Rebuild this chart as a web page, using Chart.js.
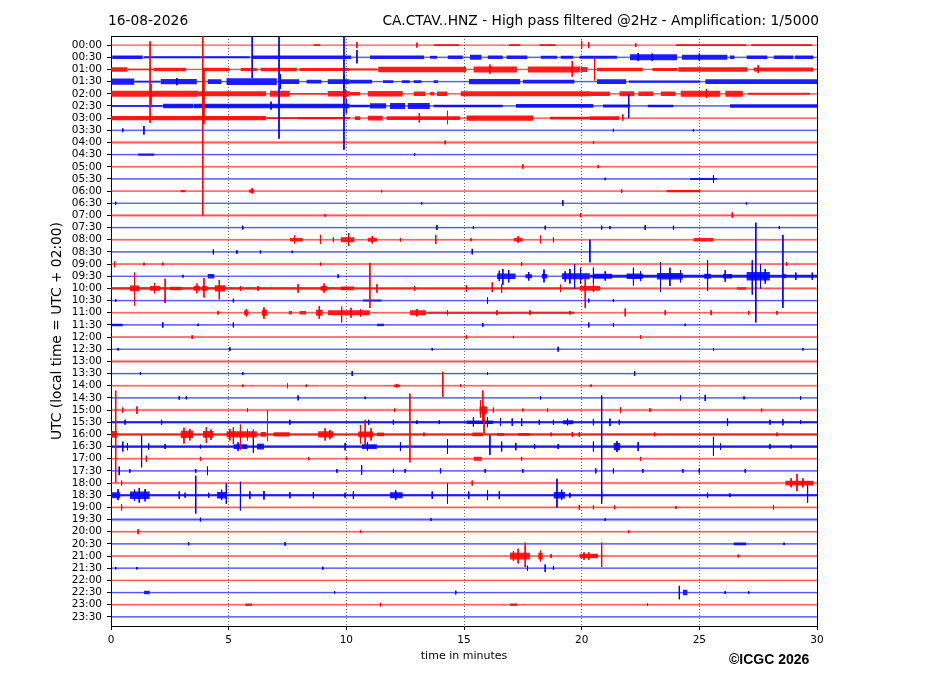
<!DOCTYPE html>
<html>
<head>
<meta charset="utf-8">
<title>CA.CTAV..HNZ helicorder 16-08-2026</title>
<script src="https://cdn.jsdelivr.net/npm/chart.js@4/dist/chart.umd.min.js"></script>
<style>
  body { margin: 0; background: #fff; }
  #wrap { position: relative; width: 927px; height: 696px; font-family: "DejaVu Sans", sans-serif; }
  #heli { position: absolute; left: 0; top: 0; }
  .lbl { position: absolute; white-space: nowrap; color: #000; line-height: 16px; }
  #date { left: 108px; top: 12px; font-size: 13.8px; }
  #station { right: 108px; top: 12px; font-size: 13.8px; }
  #copy { left: 729px; top: 651px; font: bold 14px "Liberation Sans", Arial, sans-serif; line-height: 16px; }
</style>
</head>
<body>
<div id="wrap">
  <canvas id="heli" width="927" height="696"></canvas>
  <div class="lbl" id="date">16-08-2026</div>
  <div class="lbl" id="station">CA.CTAV..HNZ - High pass filtered @2Hz - Amplification: 1/5000</div>
  <div class="lbl" id="copy">©ICGC 2026</div>
</div>
<script>
/**
 * Helicorder (drum record) of CA.CTAV..HNZ for one day: 48 half-hour rows,
 * each a 30-minute trace plotted around its own baseline.
 * Amplitudes below are in "row units" (1 = distance between two baselines),
 * read off the reference plot.
 */

/** Row labels, top to bottom (UTC). */
const rowLabels = [
  "00:00", "00:30", "01:00", "01:30", "02:00", "02:30", "03:00", "03:30",
  "04:00", "04:30", "05:00", "05:30", "06:00", "06:30", "07:00", "07:30",
  "08:00", "08:30", "09:00", "09:30", "10:00", "10:30", "11:00", "11:30",
  "12:00", "12:30", "13:00", "13:30", "14:00", "14:30", "15:00", "15:30",
  "16:00", "16:30", "17:00", "17:30", "18:00", "18:30", "19:00", "19:30",
  "20:00", "20:30", "21:00", "21:30", "22:00", "22:30", "23:00", "23:30",
];

/** Minute ticks on the time axis. */
const xTicks = [0, 5, 10, 15, 20, 25, 30];

/** Background noise half-amplitude of each row. */
const rowNoise = [
  0.06, 0.07, 0.07, 0.07, 0.07, 0.07, 0.07, 0.07,
  0.13, 0.07, 0.08, 0.07, 0.08, 0.07, 0.11, 0.07,
  0.08, 0.07, 0.08, 0.07, 0.11, 0.07, 0.08, 0.07,
  0.08, 0.07, 0.13, 0.07, 0.08, 0.07, 0.10, 0.08,
  0.09, 0.08, 0.08, 0.07, 0.10, 0.08, 0.10, 0.13,
  0.08, 0.07, 0.08, 0.07, 0.08, 0.07, 0.08, 0.07,
];

/** Sustained noisy stretches per row: [startMin, endMin, halfAmplitude]. */
const bands = [
  /* 00:00 */ [[8.6, 8.9, 0.08], [13.7, 14.8, 0.07], [16.9, 17.4, 0.08], [18.2, 18.9, 0.08], [24.0, 27.0, 0.07], [27.2, 29.8, 0.07]],
  /* 00:30 */ [[0.05, 1.35, 0.15], [1.4, 5.9, 0.08], [6.0, 10.2, 0.14], [11.0, 13.3, 0.14], [13.55, 13.85, 0.12], [14.3, 14.95, 0.14], [15.25, 15.75, 0.2], [16.0, 16.65, 0.14], [16.8, 17.7, 0.14], [18.25, 18.95, 0.12], [19.1, 19.65, 0.12], [19.9, 21.5, 0.12], [22.05, 24.05, 0.24], [24.25, 26.2, 0.2], [26.3, 26.5, 0.14], [27.0, 27.9, 0.15], [28.15, 29.0, 0.14], [29.05, 29.85, 0.14]],
  /* 01:00 */ [[0, 0.7, 0.18], [0.7, 1.8, 0.06], [1.8, 3.2, 0.15], [3.9, 5.05, 0.15], [5.5, 6.2, 0.12], [6.35, 7.9, 0.15], [8.0, 10.15, 0.12], [10.15, 11.3, 0.08], [11.35, 15.1, 0.22], [15.4, 17.25, 0.25], [17.7, 19.95, 0.25], [19.95, 20.25, 0.2], [20.65, 22.6, 0.15], [23.0, 24.05, 0.12], [24.1, 27.05, 0.18], [27.3, 29.85, 0.17]],
  /* 01:30 */ [[0, 1.0, 0.25], [1.0, 2.1, 0.07], [2.1, 3.65, 0.22], [4.1, 4.7, 0.2], [4.9, 7.05, 0.27], [7.2, 8.0, 0.2], [8.3, 8.95, 0.15], [9.2, 10.15, 0.2], [10.15, 11.1, 0.15], [11.55, 12.0, 0.12], [12.35, 12.7, 0.12], [12.85, 13.2, 0.12], [13.7, 13.9, 0.12], [15.2, 17.4, 0.22], [17.5, 19.7, 0.15], [20.65, 21.9, 0.2], [22.0, 25.05, 0.09], [25.25, 30, 0.2]],
  /* 02:00 */ [[0, 3.7, 0.25], [3.7, 6.6, 0.2], [6.75, 7.6, 0.25], [7.6, 9.2, 0.05], [9.2, 10.15, 0.22], [10.15, 10.6, 0.15], [10.9, 12.4, 0.22], [12.85, 13.35, 0.18], [13.55, 13.75, 0.15], [13.85, 14.3, 0.18], [14.85, 20.35, 0.2], [20.35, 21.2, 0.18], [21.6, 22.25, 0.2], [22.4, 23.05, 0.18], [23.35, 24.0, 0.18], [24.2, 25.9, 0.24], [26.1, 26.85, 0.24], [27.05, 29.7, 0.08]],
  /* 02:30 */ [[0, 2.2, 0.06], [2.2, 3.5, 0.18], [3.5, 10.15, 0.18], [10.15, 11.0, 0.1], [11.0, 11.7, 0.22], [11.85, 12.5, 0.25], [12.6, 13.55, 0.25], [13.7, 16.65, 0.1], [17.2, 20.5, 0.15], [20.9, 22.05, 0.12], [22.8, 23.9, 0.1], [26.3, 30, 0.14]],
  /* 03:00 */ [[0, 6.6, 0.17], [6.6, 7.9, 0.07], [7.9, 10.15, 0.1], [10.35, 10.6, 0.15], [10.9, 11.55, 0.2], [11.7, 14.85, 0.15], [15.1, 17.95, 0.22], [18.65, 20.35, 0.12], [20.35, 21.6, 0.15]],
  /* 03:30 */ [],
  /* 04:00 */ [],
  /* 04:30 */ [[1.15, 1.85, 0.1]],
  /* 05:00 */ [],
  /* 05:30 */ [[24.6, 25.75, 0.08]],
  /* 06:00 */ [[2.95, 3.15, 0.1], [5.85, 6.1, 0.14], [23.6, 25.05, 0.1]],
  /* 06:30 */ [],
  /* 07:00 */ [],
  /* 07:30 */ [],
  /* 08:00 */ [[7.6, 8.15, 0.15], [9.75, 10.35, 0.2], [10.9, 11.3, 0.17], [17.1, 17.5, 0.15], [24.75, 25.6, 0.14]],
  /* 08:30 */ [],
  /* 09:00 */ [],
  /* 09:30 */ [[3.0, 3.1, 0.12], [4.1, 4.4, 0.18], [16.4, 17.2, 0.22], [17.6, 17.9, 0.16], [18.3, 18.55, 0.18], [19.15, 20.35, 0.24], [20.35, 30, 0.13], [20.5, 21.3, 0.2], [21.9, 22.6, 0.22], [23.2, 24.3, 0.26], [25.2, 25.5, 0.2], [26.0, 26.4, 0.18], [27.0, 28.0, 0.35], [28.5, 28.7, 0.16]],
  /* 10:00 */ [[0, 10.15, 0.09], [0.8, 1.2, 0.24], [1.65, 2.1, 0.2], [2.5, 3.0, 0.14], [3.5, 3.8, 0.2], [3.85, 4.1, 0.2], [4.4, 4.85, 0.26], [8.9, 9.2, 0.2], [9.75, 10.35, 0.15], [10.35, 19.9, 0.07], [19.9, 20.8, 0.2], [26.6, 27.0, 0.1]],
  /* 10:30 */ [[10.7, 11.5, 0.08]],
  /* 11:00 */ [[5.65, 5.85, 0.18], [6.4, 6.65, 0.24], [7.55, 7.7, 0.15], [8.0, 8.3, 0.15], [8.7, 9.0, 0.24], [9.2, 11.0, 0.2], [12.7, 13.4, 0.2], [13.4, 19.7, 0.08]],
  /* 11:30 */ [[0, 0.5, 0.1], [11.3, 11.6, 0.1]],
  /* 12:00 */ [],
  /* 12:30 */ [],
  /* 13:00 */ [],
  /* 13:30 */ [],
  /* 14:00 */ [[12.0, 12.3, 0.1]],
  /* 14:30 */ [],
  /* 15:00 */ [[15.65, 16.0, 0.3]],
  /* 15:30 */ [[0, 30, 0.08], [15.1, 16.25, 0.15], [19.2, 19.65, 0.16]],
  /* 16:00 */ [[0, 30, 0.08], [0, 0.25, 0.28], [2.95, 3.5, 0.3], [3.9, 4.35, 0.28], [4.9, 6.2, 0.26], [6.35, 6.6, 0.2], [6.9, 7.6, 0.18], [8.8, 9.45, 0.26], [10.5, 11.15, 0.24], [11.3, 11.6, 0.15], [15.35, 15.8, 0.15], [16.4, 16.7, 0.12], [17.3, 17.8, 0.12]],
  /* 16:30 */ [[0, 30, 0.09], [5.2, 5.8, 0.2], [6.2, 6.5, 0.24], [10.65, 11.3, 0.2], [21.35, 21.65, 0.3]],
  /* 17:00 */ [[15.4, 15.75, 0.17]],
  /* 17:30 */ [],
  /* 18:00 */ [[28.65, 29.85, 0.2]],
  /* 18:30 */ [[0, 30, 0.09], [0, 0.4, 0.24], [0.8, 1.65, 0.3], [4.5, 4.9, 0.26], [11.85, 12.4, 0.24], [18.8, 19.3, 0.26]],
  /* 19:00 */ [],
  /* 19:30 */ [],
  /* 20:00 */ [],
  /* 20:30 */ [[26.45, 27.0, 0.12]],
  /* 21:00 */ [[16.95, 17.8, 0.28], [18.15, 18.35, 0.28], [19.9, 20.7, 0.18]],
  /* 21:30 */ [],
  /* 22:00 */ [],
  /* 22:30 */ [[1.4, 1.65, 0.15], [24.3, 24.5, 0.22]],
  /* 23:00 */ [[5.7, 6.0, 0.1], [16.95, 17.25, 0.1]],
  /* 23:30 */ [],
];

/** Individual wiggles / arrivals per row: [minute, upAmplitude, downAmplitude]. */
const spikes = [
  /* 00:00 */ [[10.45, 0.25, 0.25], [13.0, 0.2, 0.2], [20.0, 0.35, 0.3], [20.3, 0.25, 0.25], [22.3, 0.15, 0.15]],
  /* 00:30 */ [[6.0, 1.8, 1.7], [10.45, 0.6, 0.5], [22.4, 0.35, 0.3], [23.0, 0.3, 0.3], [25.0, 0.3, 0.3]],
  /* 01:00 */ [[16.1, 0.4, 0.35], [19.6, 0.7, 0.6], [20.55, 1.0, 0.9], [27.5, 0.35, 0.3]],
  /* 01:30 */ [[2.8, 0.3, 0.3], [7.14, 4.5, 4.7], [7.2, 0.6, 0.6], [9.9, 0.5, 0.5]],
  /* 02:00 */ [[1.66, 4.3, 2.4], [1.7, 0.8, 0.9], [3.9, 5.0, 10.0], [3.95, 2.0, 2.5], [9.95, 0.4, 0.4], [25.3, 0.4, 0.35]],
  /* 02:30 */ [[6.8, 0.35, 0.3], [9.9, 6.0, 3.6], [10.0, 0.6, 0.6], [22.0, 1.0, 1.0]],
  /* 03:00 */ [[13.1, 0.4, 0.35], [14.3, 0.6, 0.5], [21.75, 0.3, 0.2]],
  /* 03:30 */ [[0.5, 0.15, 0.15], [1.4, 0.35, 0.35], [21.35, 0.12, 0.12], [24.75, 0.1, 0.1]],
  /* 04:00 */ [[14.2, 0.15, 0.15], [20.5, 0.1, 0.1]],
  /* 04:30 */ [[12.9, 0.1, 0.1]],
  /* 05:00 */ [[17.5, 0.2, 0.15], [20.7, 0.12, 0.12]],
  /* 05:30 */ [[21.0, 0.1, 0.1], [25.6, 0.3, 0.3]],
  /* 06:00 */ [[6.0, 0.25, 0.2], [11.5, 0.1, 0.1], [21.7, 0.15, 0.15]],
  /* 06:30 */ [[0.2, 0.12, 0.12], [13.2, 0.1, 0.1], [19.2, 0.25, 0.2], [27.0, 0.1, 0.1]],
  /* 07:00 */ [[9.1, 0.1, 0.1], [19.95, 0.2, 0.15], [26.4, 0.25, 0.2]],
  /* 07:30 */ [[5.6, 0.15, 0.15], [13.85, 0.2, 0.2], [15.4, 0.12, 0.12], [18.45, 0.15, 0.15], [20.85, 0.15, 0.15], [21.2, 0.12, 0.12], [22.7, 0.2, 0.2], [23.9, 0.15, 0.15], [28.4, 0.12, 0.12]],
  /* 08:00 */ [[7.8, 0.35, 0.3], [8.9, 0.4, 0.35], [9.45, 0.2, 0.2], [10.1, 0.55, 0.5], [11.1, 0.3, 0.3], [12.3, 0.15, 0.15], [13.8, 0.4, 0.35], [15.3, 0.12, 0.12], [17.3, 0.3, 0.25], [18.25, 0.35, 0.3], [18.8, 0.2, 0.2]],
  /* 08:30 */ [[4.35, 0.2, 0.2], [5.35, 0.15, 0.15], [6.35, 0.12, 0.12], [7.7, 0.1, 0.1], [15.35, 0.25, 0.2], [20.35, 1.0, 0.85]],
  /* 09:00 */ [[0.15, 0.25, 0.25], [1.4, 0.12, 0.12], [2.2, 0.12, 0.12], [8.9, 0.12, 0.12], [17.45, 0.15, 0.15], [28.7, 0.15, 0.15]],
  /* 09:30 */ [[9.65, 0.15, 0.15], [16.5, 0.45, 0.4], [16.65, 0.6, 0.7], [16.9, 0.5, 0.5], [17.75, 0.35, 0.35], [18.4, 0.55, 0.5], [19.3, 0.4, 0.45], [19.5, 0.6, 0.6], [19.7, 1.0, 1.0], [19.95, 0.7, 0.6], [20.5, 0.7, 0.6], [21.0, 0.4, 0.35], [22.2, 0.7, 0.75], [22.5, 0.4, 0.4], [23.35, 1.15, 1.3], [23.75, 0.7, 0.8], [24.2, 0.5, 0.5], [25.35, 1.3, 1.2], [26.1, 0.5, 0.45], [27.25, 1.3, 1.5], [27.4, 4.4, 3.8], [27.6, 1.0, 1.0], [27.8, 0.6, 0.6], [28.55, 3.4, 2.6], [29.1, 0.3, 0.3], [29.8, 0.3, 0.3]],
  /* 10:00 */ [[1.0, 1.3, 1.4], [1.85, 0.45, 0.4], [2.3, 0.8, 1.2], [3.65, 0.4, 0.4], [3.95, 0.85, 0.75], [4.6, 0.7, 0.9], [5.5, 0.2, 0.2], [6.25, 0.2, 0.2], [7.95, 0.35, 0.35], [9.05, 0.4, 0.35], [11.0, 2.1, 1.6], [11.3, 0.35, 0.35], [12.9, 0.2, 0.2], [15.1, 0.25, 0.25], [16.2, 0.5, 0.3], [16.6, 0.35, 0.35], [19.1, 0.3, 0.3], [20.15, 0.8, 1.6], [20.5, 0.35, 0.3]],
  /* 10:30 */ [[0.2, 0.1, 0.1], [2.3, 0.15, 0.15], [5.2, 0.15, 0.15], [16.0, 0.25, 0.25], [20.3, 0.15, 0.15], [21.35, 0.12, 0.12]],
  /* 11:00 */ [[4.55, 0.15, 0.15], [5.75, 0.3, 0.3], [6.5, 0.45, 0.5], [8.85, 0.55, 0.5], [9.8, 0.5, 0.8], [10.2, 0.4, 0.4], [10.6, 0.3, 0.3], [13.0, 0.3, 0.3], [14.3, 0.2, 0.2], [16.4, 0.2, 0.2], [17.8, 0.2, 0.2], [19.5, 0.15, 0.15], [21.85, 0.35, 0.3], [23.55, 0.2, 0.2], [25.5, 0.2, 0.2], [27.1, 0.15, 0.15], [28.3, 0.15, 0.15]],
  /* 11:30 */ [[2.2, 0.22, 0.22], [3.7, 0.1, 0.1], [5.2, 0.2, 0.2], [15.8, 0.15, 0.15], [20.3, 0.2, 0.2], [21.35, 0.15, 0.15], [24.4, 0.1, 0.1]],
  /* 12:00 */ [[3.45, 0.15, 0.15], [15.1, 0.15, 0.15], [17.1, 0.1, 0.1], [22.5, 0.15, 0.15]],
  /* 12:30 */ [[0.3, 0.1, 0.1], [5.05, 0.15, 0.15], [13.65, 0.1, 0.1], [19.0, 0.2, 0.2], [25.6, 0.1, 0.1], [29.4, 0.1, 0.1]],
  /* 13:00 */ [],
  /* 13:30 */ [[1.25, 0.12, 0.12], [5.6, 0.12, 0.12], [10.25, 0.2, 0.2], [16.0, 0.1, 0.1], [22.25, 0.2, 0.2]],
  /* 14:00 */ [[5.6, 0.1, 0.1], [7.5, 0.2, 0.2], [8.3, 0.1, 0.1], [12.15, 0.15, 0.15], [14.1, 1.15, 0.9], [14.85, 0.12, 0.12], [20.4, 0.1, 0.1]],
  /* 14:30 */ [[2.9, 0.15, 0.15], [3.2, 0.12, 0.12], [7.95, 0.2, 0.2], [10.8, 0.1, 0.1], [18.25, 0.12, 0.12], [20.85, 0.2, 0.2], [24.2, 0.2, 0.2], [25.25, 0.25, 0.25], [26.9, 0.12, 0.12], [29.3, 0.15, 0.15]],
  /* 15:00 */ [[0.5, 0.2, 0.2], [1.1, 0.3, 0.3], [5.8, 0.15, 0.15], [12.05, 0.12, 0.12], [15.7, 0.8, 0.6], [15.8, 1.6, 0.9], [15.85, 0.3, 1.9], [16.25, 0.2, 0.2], [17.5, 0.12, 0.12], [18.55, 0.15, 0.15], [21.65, 0.25, 0.25], [22.9, 0.15, 0.15], [27.65, 0.12, 0.12]],
  /* 15:30 */ [[0.6, 0.2, 0.2], [2.15, 0.2, 0.2], [7.6, 0.2, 0.2], [10.95, 0.2, 0.2], [12.0, 0.2, 0.2], [13.0, 0.15, 0.15], [13.95, 0.15, 0.15], [15.4, 0.4, 0.35], [16.0, 0.4, 0.4], [16.55, 0.35, 0.3], [17.05, 0.3, 0.3], [17.45, 0.3, 0.3], [18.2, 0.2, 0.2], [18.8, 0.2, 0.2], [19.4, 0.3, 0.25], [20.5, 0.25, 0.25], [21.2, 0.3, 0.3], [21.6, 0.2, 0.2], [26.2, 0.3, 0.3], [28.0, 0.2, 0.2], [28.55, 0.25, 0.25], [29.3, 0.15, 0.15]],
  /* 16:00 */ [[0.2, 3.6, 3.95], [3.1, 0.55, 0.75], [3.35, 0.45, 0.5], [4.05, 0.6, 0.7], [4.25, 0.4, 0.45], [5.05, 0.45, 0.5], [5.2, 0.6, 0.8], [5.5, 0.8, 1.25], [5.8, 0.45, 0.5], [6.05, 0.4, 0.4], [6.65, 2.0, 0.55], [9.1, 0.5, 0.5], [9.3, 0.35, 0.4], [10.6, 0.75, 0.75], [10.8, 1.2, 0.85], [11.05, 0.5, 0.5], [12.7, 3.35, 2.3], [13.3, 0.15, 0.15], [18.7, 0.15, 0.15], [19.6, 0.2, 0.2], [19.9, 0.2, 0.2], [23.1, 0.15, 0.15], [28.3, 0.15, 0.15]],
  /* 16:30 */ [[0.5, 0.4, 0.4], [0.7, 0.3, 0.3], [1.3, 0.9, 1.7], [1.6, 0.25, 0.25], [2.3, 0.2, 0.2], [3.8, 0.15, 0.15], [5.4, 0.35, 0.35], [6.05, 1.2, 0.5], [9.95, 0.3, 0.3], [10.9, 0.35, 0.35], [12.3, 0.35, 0.35], [14.3, 0.6, 0.6], [16.1, 0.9, 0.7], [16.6, 0.4, 0.4], [17.2, 0.3, 0.3], [18.0, 0.2, 0.2], [19.0, 0.2, 0.2], [20.5, 0.4, 0.4], [20.85, 3.8, 4.7], [21.5, 0.45, 0.45], [22.4, 0.35, 0.35], [25.6, 0.8, 0.75], [25.9, 0.25, 0.25], [28.0, 0.2, 0.2], [28.9, 0.15, 0.15]],
  /* 17:00 */ [[1.5, 0.25, 0.25], [3.8, 0.15, 0.15], [8.4, 0.12, 0.12], [10.0, 0.12, 0.12], [17.45, 0.15, 0.15], [22.5, 0.15, 0.15]],
  /* 17:30 */ [[0.35, 0.35, 0.35], [0.8, 0.15, 0.15], [3.6, 0.15, 0.15], [4.1, 0.35, 0.35], [9.6, 0.15, 0.15], [10.65, 0.45, 0.3], [12.0, 0.15, 0.15], [12.5, 0.15, 0.15], [14.0, 0.2, 0.2], [15.9, 0.15, 0.15], [17.5, 0.15, 0.15], [20.6, 0.2, 0.2], [21.35, 0.2, 0.2], [22.6, 0.15, 0.15], [24.3, 0.15, 0.15], [25.0, 0.2, 0.2], [26.95, 0.15, 0.15]],
  /* 18:00 */ [[0.45, 0.2, 0.2], [15.35, 0.2, 0.2], [28.9, 0.4, 0.35], [29.15, 0.75, 0.65], [29.4, 0.4, 0.35]],
  /* 18:30 */ [[0.3, 0.5, 0.4], [1.0, 0.45, 0.45], [1.2, 0.6, 0.6], [1.45, 0.5, 0.5], [2.9, 0.3, 0.3], [3.15, 0.2, 0.2], [3.6, 1.6, 1.5], [4.15, 0.2, 0.2], [4.7, 0.45, 0.4], [4.9, 0.95, 0.7], [5.5, 1.1, 1.25], [5.9, 0.3, 0.3], [6.5, 0.35, 0.35], [7.6, 0.25, 0.25], [8.6, 0.25, 0.25], [9.95, 0.2, 0.2], [10.3, 0.3, 0.3], [12.1, 0.4, 0.4], [13.65, 0.3, 0.3], [14.3, 0.95, 0.7], [15.2, 0.3, 0.3], [16.0, 0.4, 0.4], [16.5, 0.3, 0.3], [18.95, 1.35, 1.0], [19.15, 0.45, 0.4], [19.5, 0.2, 0.2], [20.85, 0.3, 0.3], [25.35, 0.2, 0.2], [26.3, 0.15, 0.15], [29.6, 0.9, 0.6]],
  /* 19:00 */ [[0.45, 0.25, 0.25], [19.9, 0.2, 0.2], [20.5, 0.15, 0.15], [21.4, 0.15, 0.15], [24.0, 0.12, 0.12], [28.15, 0.2, 0.2]],
  /* 19:30 */ [[3.8, 0.15, 0.15], [13.6, 0.1, 0.1], [21.0, 0.1, 0.1]],
  /* 20:00 */ [[1.15, 0.2, 0.2], [10.6, 0.1, 0.1], [22.0, 0.1, 0.1]],
  /* 20:30 */ [[3.3, 0.12, 0.12], [7.4, 0.15, 0.15], [28.6, 0.1, 0.1]],
  /* 21:00 */ [[17.1, 0.4, 0.4], [17.3, 0.6, 0.6], [17.6, 1.1, 0.9], [18.25, 0.45, 0.45], [18.7, 0.15, 0.15], [20.1, 0.3, 0.3], [20.3, 0.3, 0.3], [20.85, 1.1, 0.9], [26.65, 0.12, 0.12]],
  /* 21:30 */ [[0.2, 0.1, 0.1], [1.1, 0.1, 0.1], [9.0, 0.12, 0.12], [17.7, 0.2, 0.2], [18.45, 0.3, 0.3], [18.8, 0.15, 0.15]],
  /* 22:00 */ [],
  /* 22:30 */ [[9.5, 0.12, 0.12], [14.65, 0.15, 0.15], [24.15, 0.55, 0.55], [26.1, 0.12, 0.12], [27.1, 0.1, 0.1]],
  /* 23:00 */ [[11.45, 0.15, 0.15], [22.8, 0.1, 0.1]],
  /* 23:30 */ [],
];

const FONT = "DejaVu Sans";
const TRACE_COLORS = ["rgb(255,0,0)", "rgb(0,0,255)"];
const BAND_COLORS = ["rgba(255,0,0,0.88)", "rgba(0,0,255,0.88)"];
const BASE_COLORS = ["rgba(255,0,0,0.55)", "rgba(0,0,255,0.55)"];
const NOISE_COLORS = ["rgba(255,0,0,0.35)", "rgba(0,0,255,0.35)"];

/**
 * Split a row's bands into layers in which no band starts before the
 * previous one ends, so each layer can be filled as one gapped line.
 */
function layers(segs) {
  const groups = [];
  for (const seg of segs) {
    const g = groups.find((grp) => grp[grp.length - 1][1] <= seg[0]);
    if (g) g.push(seg);
    else groups.push([seg]);
  }
  return groups;
}

/**
 * One side of a set of bands as line points, segments separated by gaps.
 * Baseline of row i sits at y = i (axis reversed), sign -1 = above.
 */
function envelope(segs, base, sign) {
  const pts = [];
  for (const [s, e, h] of segs) {
    pts.push({ x: s, y: base + sign * h }, { x: e, y: base + sign * h }, { x: e, y: null });
  }
  return pts;
}

/** Vertical strokes for the spikes of one row. */
function spikePoints(list, base) {
  const pts = [];
  for (const [x, up, down] of list) {
    pts.push({ x, y: base - up }, { x, y: base + down }, { x, y: null });
  }
  return pts;
}

/** Filled band (both sides of the baseline) for a set of segments. */
function bandPair(segs, base, color, order) {
  return [-1, 1].map((sign) => ({
    data: envelope(segs, base, sign), pointRadius: 0, spanGaps: false, tension: 0,
    borderColor: "rgba(0,0,0,0)", borderWidth: 1, backgroundColor: color,
    fill: { value: base }, order,
  }));
}

/** All datasets for row i: baseline, background noise, noisy bands, spikes. */
function rowDatasets(i) {
  const k = i % 2;
  const out = [
    { data: [{ x: 0, y: i }, { x: 30, y: i }], pointRadius: 0, borderColor: BASE_COLORS[k], borderWidth: 1, fill: false, order: 4 },
    ...bandPair([[0, 30, rowNoise[i]]], i, NOISE_COLORS[k], 3),
  ];
  for (const grp of layers(bands[i])) out.push(...bandPair(grp, i, BAND_COLORS[k], 2));
  if (spikes[i].length) {
    out.push({ data: spikePoints(spikes[i], i), pointRadius: 0, spanGaps: false, tension: 0,
      borderColor: TRACE_COLORS[k], borderWidth: 1, fill: false, order: 1 });
  }
  return out;
}

const datasets = rowLabels.flatMap((_, i) => rowDatasets(i));

Chart.defaults.font.family = FONT;
Chart.defaults.color = "#000";

const frame = { display: true, color: "#000", width: 1 };

new Chart(document.getElementById("heli"), {
  type: "line",
  data: { datasets },
  options: {
    responsive: false,
    animation: false,
    events: [],
    layout: { padding: { top: 36, right: 110, left: 0, bottom: 0 } },
    plugins: { legend: { display: false }, tooltip: { enabled: false } },
    scales: {
      x: {
        type: "linear", min: 0, max: 30,
        afterBuildTicks: (s) => { s.ticks = xTicks.map((v) => ({ value: v })); },
        afterFit: (s) => { s.height = 70; },
        ticks: { font: { size: 10.5 }, color: "#000", padding: 4, maxRotation: 0, autoSkip: false },
        grid: {
          color: (c) => (c.tick && c.tick.value > 0 && c.tick.value < 30 ? "#444" : "rgba(0,0,0,0)"),
          lineWidth: 0.8, tickColor: "#000", tickLength: 4, tickWidth: 1,
        },
        border: { ...frame, dash: [1, 2] },
        title: { display: true, text: "time in minutes", font: { size: 11 }, color: "#000", padding: { top: 0, bottom: 33 } },
      },
      y: {
        type: "linear", reverse: true, min: -0.75, max: rowLabels.length - 0.25,
        afterBuildTicks: (s) => { s.ticks = rowLabels.map((_, i) => ({ value: i })); },
        afterFit: (s) => { s.width = 111; },
        ticks: { callback: (v) => rowLabels[v], font: { size: 10.5 }, color: "#000", padding: 5, autoSkip: false },
        grid: { drawOnChartArea: false, drawTicks: true, tickLength: 4, color: "#000", tickColor: "#000" },
        border: frame,
        title: { display: true, text: "UTC (local time = UTC + 02:00)", font: { size: 13.8 }, color: "#000", padding: { top: 49, bottom: 0 } },
      },
      xTop: {
        type: "linear", position: "top", min: 0, max: 30, display: true,
        ticks: { display: false }, grid: { display: false }, border: frame,
        afterFit: (s) => { s.height = 0; },
      },
      yRight: {
        type: "linear", position: "right", min: 0, max: 1, display: true,
        ticks: { display: false }, grid: { display: false }, border: frame,
        afterFit: (s) => { s.width = 0; },
      },
    },
  },
});
</script>
</body>
</html>
